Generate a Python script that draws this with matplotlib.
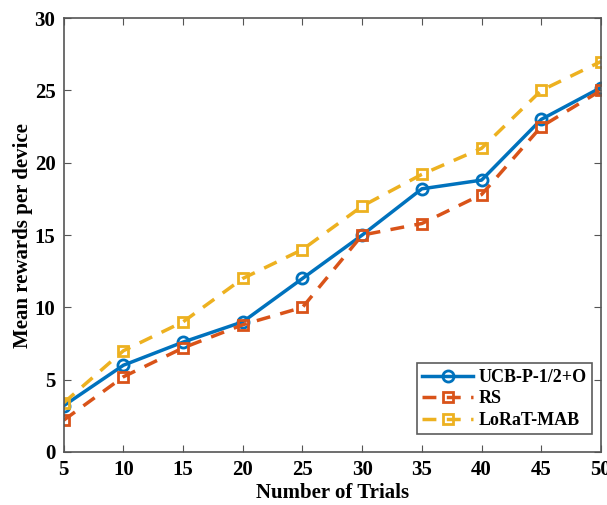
import matplotlib
matplotlib.use("Agg")
import matplotlib.pyplot as plt

trials = [5, 10, 15, 20, 25, 30, 35, 40, 45, 50]
ucb = [3.2, 6.0, 7.6, 9.0, 12.0, 15.0, 18.2, 18.8, 23.0, 25.2]
rs = [2.2, 5.2, 7.2, 8.8, 10.0, 15.0, 15.8, 17.8, 22.5, 25.0]
lorat = [3.4, 7.0, 9.0, 12.0, 14.0, 17.0, 19.2, 21.0, 25.0, 27.0]

plt.rcParams['font.family'] = ['Liberation Serif', 'DejaVu Serif']
plt.rcParams['font.weight'] = 'bold'

fig = plt.figure(figsize=(6.07, 5.05), dpi=100)
ax = fig.add_axes([0.105, 0.105, 0.885, 0.859])

ax.plot(trials, ucb, color='#0072BD', lw=2.5, marker='o', ms=8,
        mfc='none', mew=2, label='UCB-P-1/2+O')
ax.plot(trials, rs, color='#D95319', lw=2.5, ls=(0, (4, 3)), marker='s', ms=7,
        mfc='none', mew=2, label='RS')
ax.plot(trials, lorat, color='#EDB120', lw=2.5, ls=(0, (4, 3)), marker='s', ms=7,
        mfc='none', mew=2, label='LoRaT-MAB')

ax.set_xlim(5, 50)
ax.set_ylim(0, 30)
ax.set_xticks(trials)
ax.set_yticks([0, 5, 10, 15, 20, 25, 30])
ax.tick_params(direction='in', top=True, right=True, labelsize=15, length=5,
               color='#555555', pad=6)
for s in ax.spines.values():
    s.set_color('#555555')
    s.set_linewidth(1.2)

ax.set_xlabel('Number of Trials', fontsize=15, fontweight='bold', labelpad=2)
ax.set_ylabel('Mean rewards per device', fontsize=15, fontweight='bold', labelpad=1)

leg = ax.legend(loc='lower right', fontsize=13, frameon=True, fancybox=False,
                edgecolor='#333333', handlelength=2.8, borderpad=0.3,
                labelspacing=0.25, handletextpad=0.3,
                bbox_to_anchor=(1.0, 0.02))
leg.get_frame().set_linewidth(1.2)

fig.savefig('out.png', dpi=100)
